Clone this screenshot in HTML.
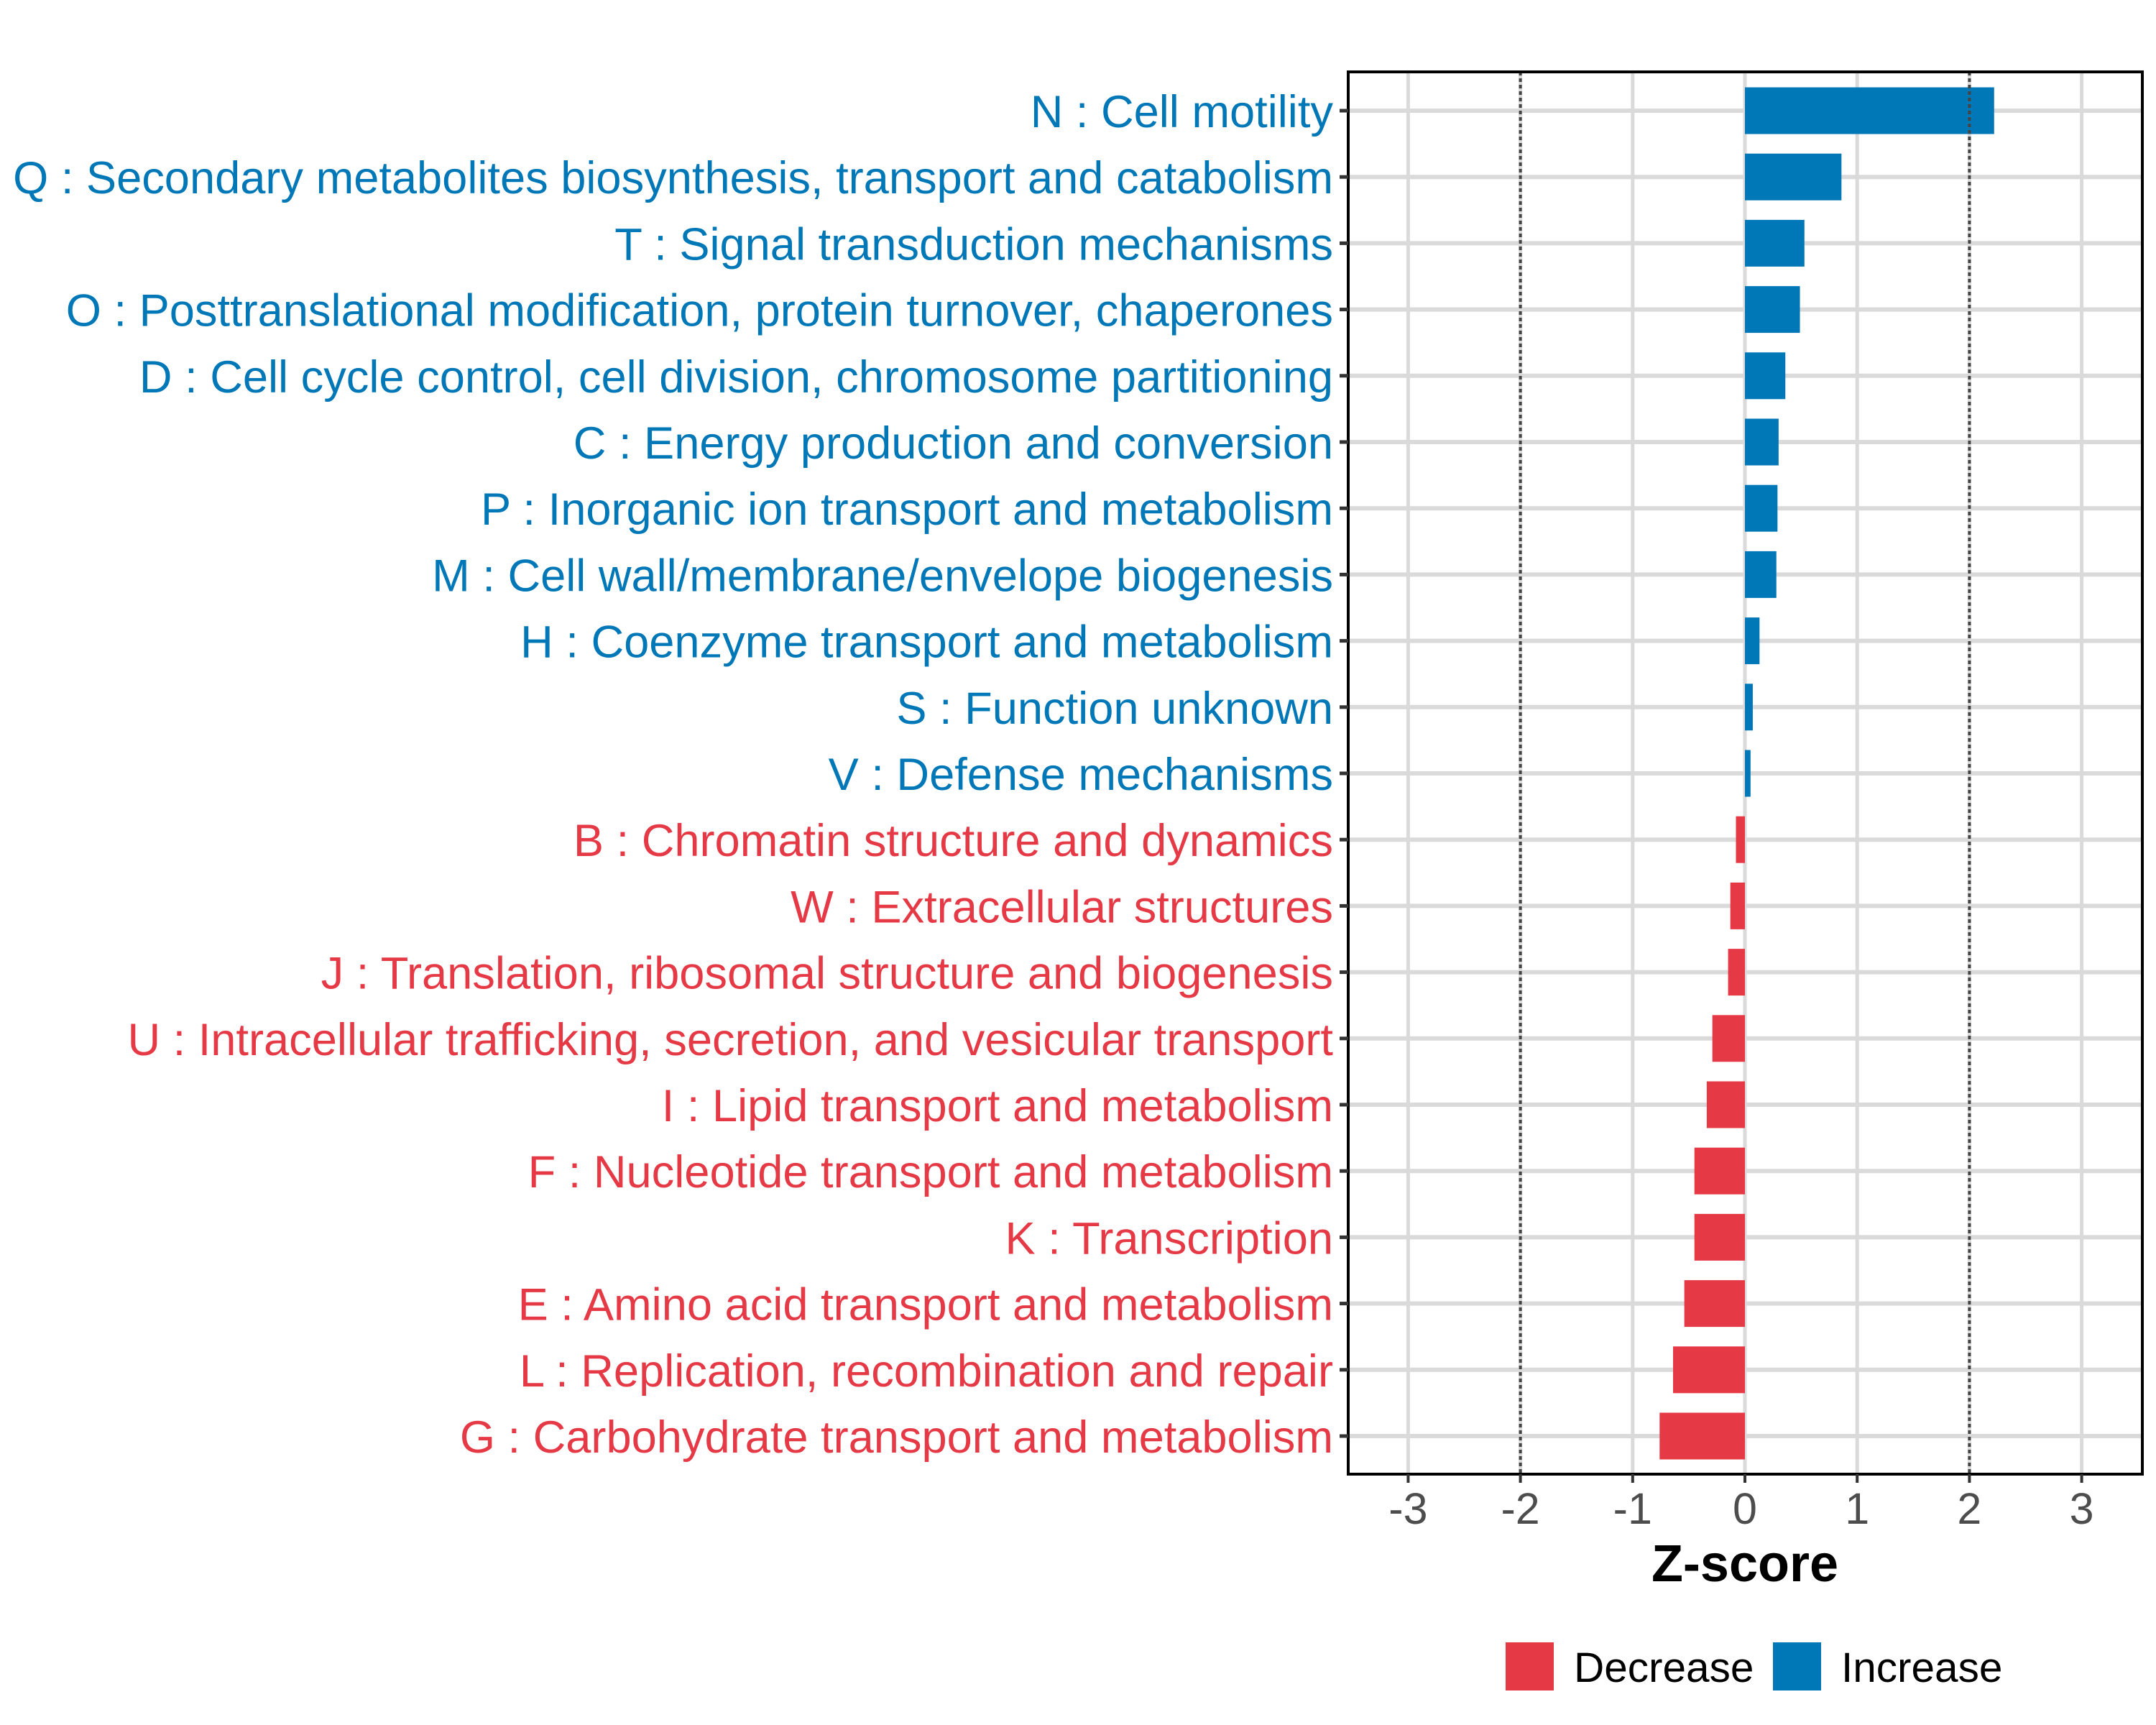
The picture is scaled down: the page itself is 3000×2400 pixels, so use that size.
<!DOCTYPE html>
<html><head><meta charset="utf-8"><style>
html,body{margin:0;padding:0;background:#fff;}
svg{display:block;font-family:"Liberation Sans",Arial,sans-serif;}
</style></head><body>
<svg id="chart" width="3000" height="2400" viewBox="0 0 3000 2400" xmlns="http://www.w3.org/2000/svg">
<rect width="3000" height="2400" fill="#fff"/>
<g id="grid"></g>
<g id="bars"></g>
<g id="refs"></g>
<rect x="1876" y="100" width="1105" height="1951" fill="none" stroke="#000" stroke-width="4"/>
<g id="yaxis"></g>
<g id="xaxis"></g>
<text x="2428" y="2200" text-anchor="middle" font-size="72" font-weight="bold" fill="#000">Z-score</text>
<g>
<rect x="2095" y="2285" width="67" height="67" fill="#e63946"/>
<text x="2190" y="2340" font-size="58.5" fill="#000">Decrease</text>
<rect x="2467" y="2285" width="67" height="67" fill="#0077b6"/>
<text x="2562" y="2340" font-size="58.5" fill="#000">Increase</text>
</g>
</svg>
<script>
const categories = [
"N : Cell motility",
"Q : Secondary metabolites biosynthesis, transport and catabolism",
"T : Signal transduction mechanisms",
"O : Posttranslational modification, protein turnover, chaperones",
"D : Cell cycle control, cell division, chromosome partitioning",
"C : Energy production and conversion",
"P : Inorganic ion transport and metabolism",
"M : Cell wall/membrane/envelope biogenesis",
"H : Coenzyme transport and metabolism",
"S : Function unknown",
"V : Defense mechanisms",
"B : Chromatin structure and dynamics",
"W : Extracellular structures",
"J : Translation, ribosomal structure and biogenesis",
"U : Intracellular trafficking, secretion, and vesicular transport",
"I : Lipid transport and metabolism",
"F : Nucleotide transport and metabolism",
"K : Transcription",
"E : Amino acid transport and metabolism",
"L : Replication, recombination and repair",
"G : Carbohydrate transport and metabolism"];
const zscores = [2.22,0.86,0.53,0.49,0.36,0.30,0.29,0.28,0.13,0.07,0.05,-0.08,-0.13,-0.15,-0.29,-0.34,-0.45,-0.45,-0.54,-0.64,-0.76];
const xTicks = [-3,-2,-1,0,1,2,3];
const xTickLabels = ["-3","-2","-1","0","1","2","3"];
const refLines = [-2,2];

const NS="http://www.w3.org/2000/svg";
const X0=2428, UNIT=156.2, PT=100, PB=2051, PL=1876, PR=2981;
const ROW0=154, STEP=92.2, BARH=65;
const xs=v=>X0+v*UNIT;
const ys=i=>ROW0+i*STEP;
function mk(tag,attrs,parent){const e=document.createElementNS(NS,tag);for(const k in attrs)e.setAttribute(k,attrs[k]);parent.appendChild(e);return e;}
const grid=document.getElementById('grid'),bars=document.getElementById('bars'),refs=document.getElementById('refs'),yaxis=document.getElementById('yaxis'),xaxis=document.getElementById('xaxis');
xTicks.forEach((t,i)=>{
  let g=mk('line',{x1:xs(t),x2:xs(t),y1:PT,y2:PB,stroke:'#dadada','stroke-width':5},grid);
  
  
  let tk=mk('line',{x1:xs(t),x2:xs(t),y1:PB,y2:PB+12,stroke:'#333','stroke-width':4},xaxis);
  
  
  let tl=mk('text',{x:xs(t),y:2120,'text-anchor':'middle','font-size':61,fill:'#4d4d4d'},xaxis);
  tl.textContent=xTickLabels[i];
  
  
});
categories.forEach((c,i)=>{
  const y=ys(i), v=zscores[i], col=v>=0?'#0077b6':'#e63946';
  let g=mk('line',{x1:PL,x2:PR,y1:y,y2:y,stroke:'#dadada','stroke-width':6},grid);
  
  
  let b=mk('rect',{x:Math.min(xs(0),xs(v)),y:y-BARH/2,width:Math.abs(xs(v)-xs(0)),height:BARH,fill:col},bars);
  
  
  let tk=mk('line',{x1:PL-12,x2:PL,y1:y,y2:y,stroke:'#333','stroke-width':5},yaxis);
  
  
  let tl=mk('text',{x:1855,y:y+23,'text-anchor':'end','font-size':63.2,fill:col},yaxis);
  tl.textContent=c;
  
  
});
refLines.forEach(r=>{
  let l=mk('line',{x1:xs(r),x2:xs(r),y1:PT,y2:PB,stroke:'#444','stroke-width':4,'stroke-dasharray':'5 4'},refs);
  
  
});
</script>
</body></html>
